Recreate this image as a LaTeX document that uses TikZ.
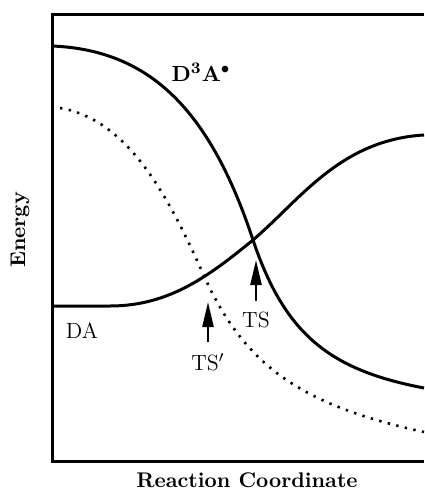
\documentclass[tikz,border=0pt]{standalone}
\usepackage{amsmath,amssymb,bm}
\usepackage{xcolor}
\usepackage{tikz}
\usetikzlibrary{arrows.meta,calc,positioning}

\begin{document}
\begin{tikzpicture}[x=0.5pt,y=-0.5pt,font=\fontsize{11}{13}\selectfont,
    curve/.style={line width=1.5pt},
    tsarrow/.style={line width=1.2pt,-{Triangle[length=12.5pt,width=5.5pt]}},
    axislabel/.style={font=\fontsize{10.6}{13}\selectfont\bfseries}]
  \useasboundingbox (0,0) rectangle (424,496);
  \draw[line width=1.5pt] (424,15) -- (52,15) -- (52,461) -- (424,461);
  \draw[curve] (52,46) .. controls (150,50) and (210,110) .. (253,240)
    .. controls (285,335) and (330,370) .. (424,388);
  \draw[curve] (52,306) -- (110,306) .. controls (170,306) and (210,275) .. (253,240)
    .. controls (300,200) and (340,140) .. (424,135);
  \draw[line width=1.3pt,dash pattern=on 1.2pt off 3.2pt]
    (60,108) .. controls (130,120) and (170,200) .. (205,278)
    .. controls (245,365) and (300,405) .. (424,432);
  \node (dta) at (201,72) {$\mathbf{D^3A^\bullet}$};
  \node (da) at (82,331) {DA};
  \node (ts) at (256,320) {TS};
  \node (tsp) at (208,362) {TS$'$};
  \coordinate (tstip) at (256,260);
  \coordinate (tsptip) at (208,302);
  \draw[tsarrow] ([yshift=2pt]ts.north) -- (tstip);
  \draw[tsarrow] ([yshift=2pt]tsp.north) -- (tsptip);
  \node[rotate=90,axislabel] (energy) at (20,230) {Energy};
  \node[axislabel] (rc) at (247,480) {Reaction Coordinate};
\end{tikzpicture}
\end{document}
